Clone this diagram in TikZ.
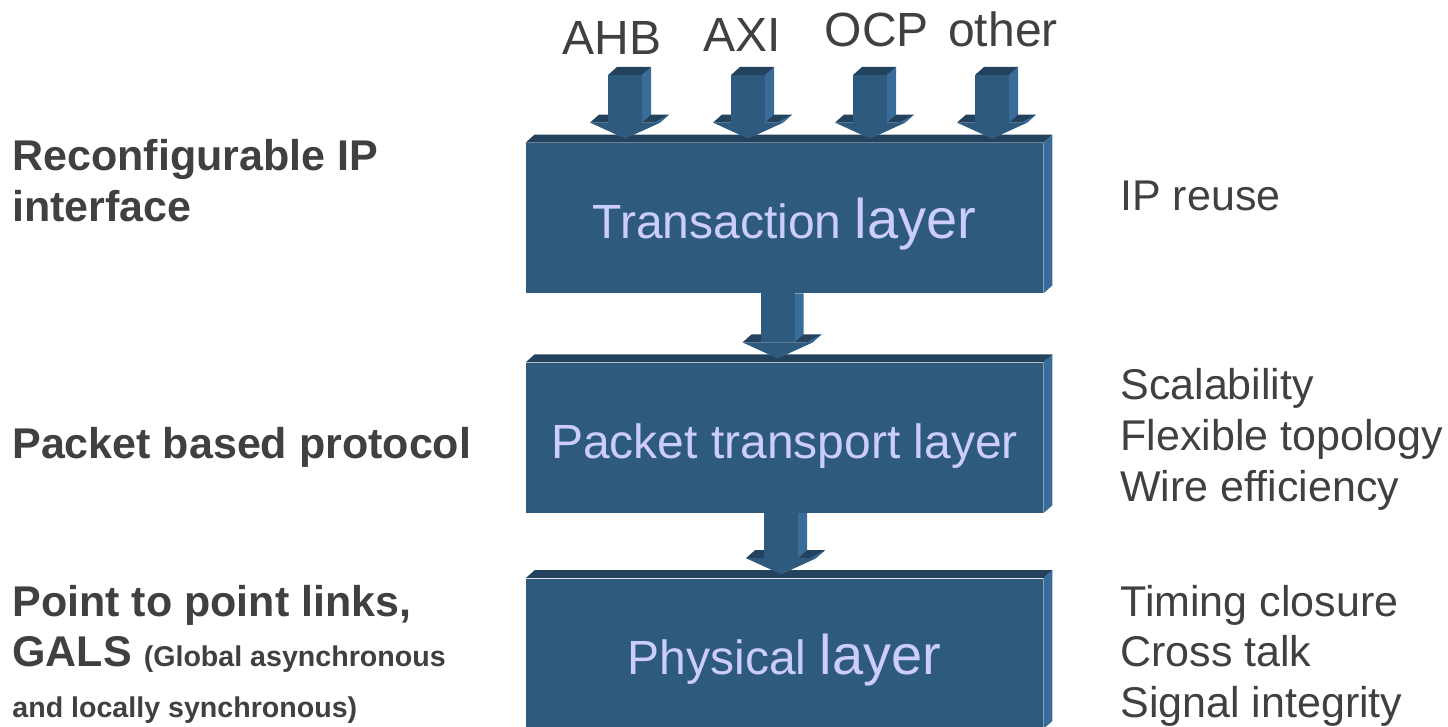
\documentclass[tikz,border=0pt]{standalone}
\usepackage{fontspec}
\setmainfont{Liberation Sans}
\usepackage{xcolor}
\usepackage{tikz}
\usetikzlibrary{positioning,calc}

\definecolor{boxfront}{HTML}{2E5A7E}
\definecolor{boxtop}{HTML}{23425E}
\definecolor{boxside}{HTML}{3A6C9A}
\definecolor{boxtext}{HTML}{CCCCFF}
\definecolor{labelgray}{HTML}{404040}

\tikzset{
  layerbox/.style={fill=boxfront,inner sep=0pt,minimum width=258.5pt,minimum height=75pt,
    text height=21pt,text depth=0pt,text=boxtext,font=\fontsize{24}{28}\selectfont},
  toplabel/.style={anchor=base,inner sep=0pt,text=labelgray,font=\fontsize{24}{28}\selectfont},
  leftnote/.style={anchor=base west,inner sep=0pt,align=left,text=labelgray,
    font=\bfseries\fontsize{21.5}{25.5}\selectfont},
  rightnote/.style={anchor=base west,inner sep=0pt,align=left,text=labelgray,
    font=\fontsize{21.5}{25.5}\selectfont},
}

\newcommand\bigword[1]{{\fontsize{28}{28}\selectfont #1}}
\newcommand\smallword[1]{{\fontsize{14.3}{25.5}\selectfont #1}}

% top and side faces of a layer box
\newcommand\boxfaces[1]{%
  \fill[boxtop] (#1.north west) -- ++(4.5pt,4pt) -- ([shift={(4.5pt,4pt)}]#1.north east) -- (#1.north east) -- cycle;
  \fill[boxside] (#1.north east) -- ++(4.5pt,4pt) -- ([shift={(4.5pt,4pt)}]#1.south east) -- (#1.south east) -- cycle;
}

% 3d block arrow: [cap] {shaft top} {tip}
\newcommand\blockarrow[3][1]{%
  \ifnum#1=1 \def\bacap{4pt}\else\def\bacap{0pt}\fi
  \path let \p1=(#2), \p2=(#3) in
    coordinate (ba-s) at (\x1,\y1)
    coordinate (ba-t) at (\x1,{\y2+2pt})
    coordinate (ba-b) at (\x1,{\y2+10pt});
  \fill[boxtop] ([xshift=-17.5pt]ba-b) -- ++(4.5pt,4pt) -- ++(35pt,0pt) -- ([xshift=17.5pt]ba-b) -- cycle;
  \fill[boxside] ([xshift=17.5pt]ba-b) -- ++(4.5pt,4pt) -- (ba-t) -- cycle;
  \fill[boxside] ([xshift=8.5pt]ba-s) -- ++(4.5pt,\bacap) -- ([shift={(13pt,4pt)}]ba-b) -- ([xshift=8.5pt]ba-b) -- cycle;
  \fill[boxfront] ([xshift=-8.5pt]ba-s) rectangle ([xshift=8.5pt]ba-b);
  \ifnum#1=1
    \fill[boxtop] ([xshift=-8.5pt]ba-s) -- ++(4.5pt,4pt) -- ++(17pt,0pt) -- ([xshift=8.5pt]ba-s) -- cycle;
  \fi
  \fill[boxfront] ([xshift=-17.5pt]ba-b) -- ([xshift=17.5pt]ba-b) -- (ba-t) -- cycle;
}

\begin{document}
\begin{tikzpicture}[x=0.5pt,y=-0.5pt]
  \useasboundingbox (0,0) rectangle (1448,727);
  % layers
  \node[layerbox] (trans) at (784.5,218) {Transaction \bigword{layer}};
  \node[layerbox,below=34.5pt of trans] (packet) {Packet transport layer};
  \node[layerbox,below=32.5pt of packet] (phys) {Physical \bigword{layer}};
  \boxfaces{trans}
  \boxfaces{packet}
  \boxfaces{phys}
  \blockarrow[0]{[xshift=-3.5pt]trans.south}{packet.north}
  \blockarrow[0]{[xshift=-1.75pt]packet.south}{phys.north}
  % bus protocols
  \node[toplabel] (ahb) at (612,55) {AHB};
  \node[toplabel] (axi) at (742,52) {AXI};
  \node[toplabel] (ocp) at (877,47) {OCP};
  \node[toplabel] (other) at (1003,47) {other};
  \coordinate (ahbin) at (625,75);
  \coordinate (axiin) at (748,75);
  \coordinate (ocpin) at (870,75);
  \coordinate (otherin) at (992,75);
  \blockarrow{ahbin}{ahbin |- trans.north}
  \blockarrow{axiin}{axiin |- trans.north}
  \blockarrow{ocpin}{ocpin |- trans.north}
  \blockarrow{otherin}{otherin |- trans.north}
  % left notes (base = last line)
  \node[leftnote] (ipif) at (12,222) {Reconfigurable IP\\interface};
  \node[leftnote] (pktproto) at (12,459) {Packet based protocol};
  \node[leftnote] (p2p) at (12,718) {Point to point links,\\GALS \smallword{(Global asynchronous}\\\smallword{and locally synchronous)}};
  % right notes
  \node[rightnote] (reuse) at (1120,211) {IP reuse};
  \node[rightnote] (scal) at (1120,502) {Scalability\\Flexible topology\\Wire efficiency};
  \node[rightnote] (timing) at (1120,718) {Timing closure\\Cross talk\\Signal integrity};
\end{tikzpicture}
\end{document}
